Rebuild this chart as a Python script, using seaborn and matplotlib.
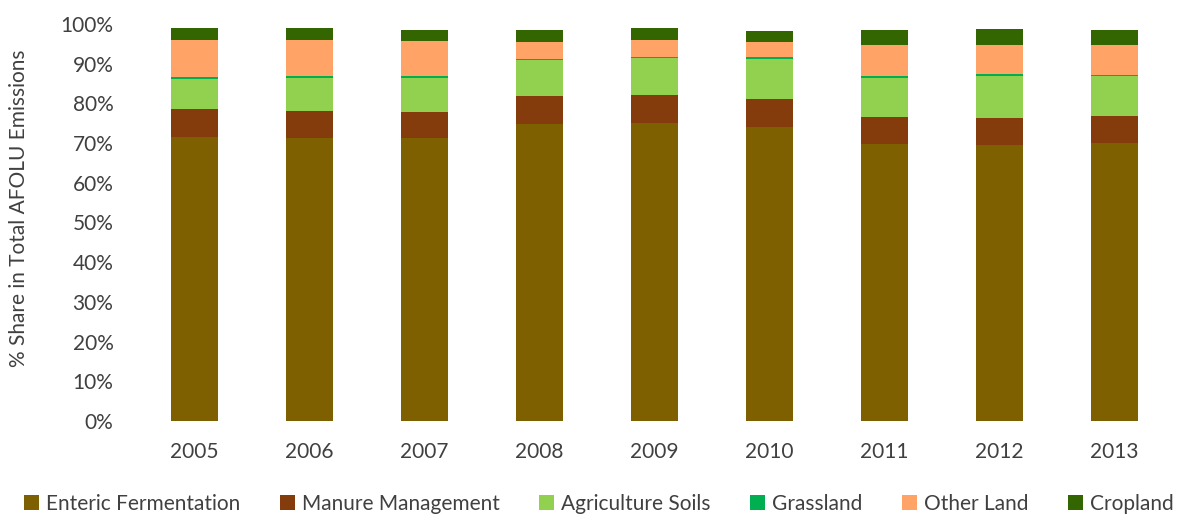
import numpy as np
import pandas as pd
import matplotlib
matplotlib.use("Agg")
import matplotlib.pyplot as plt
from matplotlib.patches import Patch
import seaborn as sns

years = ["2005", "2006", "2007", "2008", "2009", "2010", "2011", "2012", "2013"]
enteric = [71.6, 71.4, 71.3, 74.8, 75.0, 74.0, 69.8, 69.5, 70.0]
manure = [6.9, 6.8, 6.6, 7.1, 7.2, 7.2, 6.7, 6.8, 6.8]
agri_soils = [7.7, 8.3, 8.4, 9.0, 9.2, 10.0, 10.0, 10.5, 10.1]
grassland = [0.4, 0.4, 0.5, 0.4, 0.4, 0.4, 0.5, 0.5, 0.3]
other_land = [9.3, 9.0, 8.8, 4.1, 4.1, 3.9, 7.7, 7.5, 7.5]
cropland = [3.0, 3.0, 2.9, 3.0, 3.0, 2.8, 3.8, 3.9, 3.8]

series = [
    ("Enteric Fermentation", enteric, "#7F6000"),
    ("Manure Management", manure, "#843C0C"),
    ("Agriculture Soils", agri_soils, "#92D050"),
    ("Grassland", grassland, "#00B050"),
    ("Other Land", other_land, "#FFA366"),
    ("Cropland", cropland, "#336600"),
]

sns.set_theme(style="white")
plt.rcParams["font.family"] = ["Lato", "DejaVu Sans"]

fig = plt.figure(figsize=(11.77, 5.16), dpi=100)
ax = fig.add_axes([137 / 1177, 1 - 421 / 516, (1172 - 137) / 1177, (421 - 24) / 516])

# stacked bars: draw cumulative totals from the top segment down
values = np.array([s[1] for s in series])
cum = np.cumsum(values, axis=0)
for i in range(len(series) - 1, -1, -1):
    df = pd.DataFrame({"year": years, "value": cum[i]})
    sns.barplot(data=df, x="year", y="value", color=series[i][2], width=0.41,
                saturation=1, ax=ax, linewidth=0)

ax.set_ylim(0, 100)
ax.set_xlim(-0.5, len(years) - 0.5)
ax.set_yticks(np.arange(0, 101, 10))
ax.set_yticklabels([f"{v}%" for v in range(0, 101, 10)])
ax.tick_params(axis="both", labelsize=15, colors="#404040", length=0)
ax.tick_params(axis="x", pad=15)
ax.tick_params(axis="y", pad=17)
ax.set_xlabel("")
ax.set_ylabel("% Share in Total AFOLU Emissions", fontsize=15, color="#404040")
ax.yaxis.set_label_coords(-0.104, 0.535)
for sp in ax.spines.values():
    sp.set_visible(False)

handles = [Patch(facecolor=c, edgecolor="none", label=n) for n, _, c in series]
fig.legend(handles=handles, loc="center", bbox_to_anchor=(0.509, 1 - 504 / 516), ncol=6,
           frameon=False, fontsize=15, handlelength=0.7, handleheight=0.7,
           handletextpad=0.35, columnspacing=1.9, labelcolor="#404040")

fig.savefig("out.png", dpi=100)
